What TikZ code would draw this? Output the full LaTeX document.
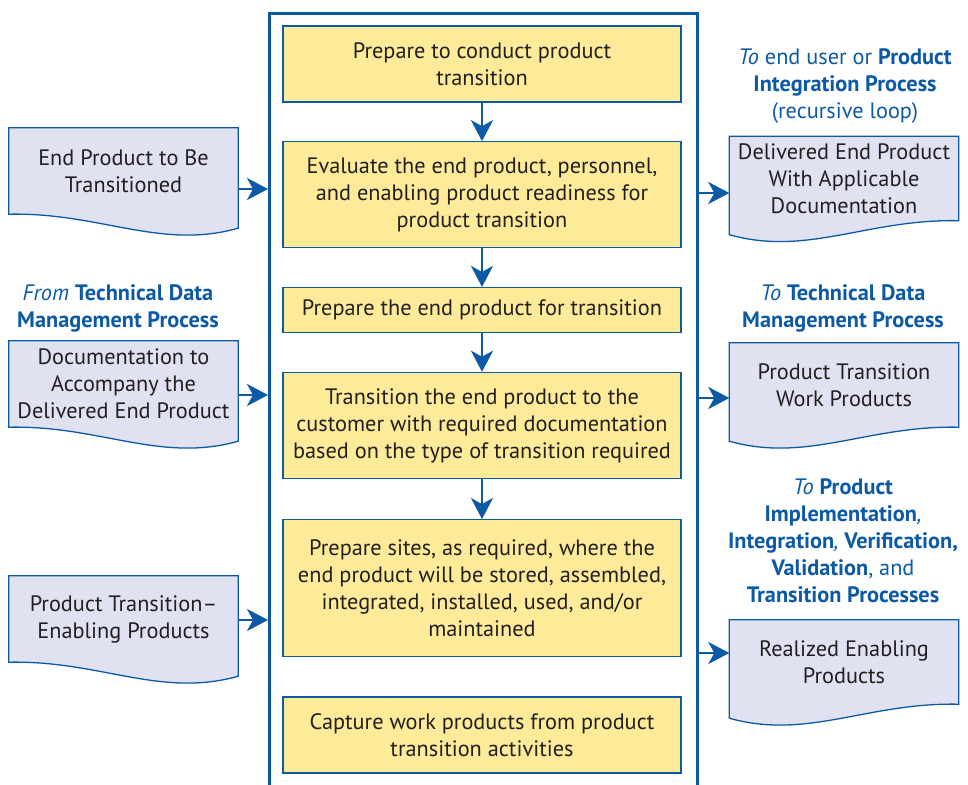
\documentclass[tikz,border=0pt]{standalone}
\usepackage{fontspec}
\setmainfont{PT Sans}
\usetikzlibrary{positioning,arrows.meta,calc,backgrounds}
\definecolor{nasablue}{RGB}{12,90,166}
\definecolor{stepyellow}{RGB}{254,235,153}
\definecolor{doclilac}{RGB}{224,226,242}
\definecolor{inktext}{RGB}{35,31,32}
\newcommand{\docleft}[1]{%
  \filldraw[docline] (#1.north west) -- (#1.north east) -- ($(#1.south east)+(0,14)$)
    .. controls ($(#1.south east)+(-78,36)$) and ($(#1.south west)+(91,-2)$) .. (#1.south west) -- cycle;}
\newcommand{\docright}[1]{%
  \filldraw[docline] (#1.north west) -- (#1.north east) -- (#1.south east)
    .. controls ($(#1.south east)+(-91,-2)$) and ($(#1.south west)+(78,36)$) .. ($(#1.south west)+(0,14)$) -- cycle;}

\begin{document}
\begin{tikzpicture}[x=1pt,y=-1pt,
    every node/.style={font=\fontsize{22.3}{27}\selectfont, text=inktext},
    stepbox/.style={draw=nasablue, line width=1.3pt, fill=stepyellow, minimum width=398pt, align=center, inner sep=0pt},
    docbox/.style={minimum width=229pt, minimum height=86pt, align=center, inner sep=0pt},
    docline/.style={draw=nasablue, line width=1.3pt, fill=doclilac},
    flow/.style={draw=nasablue, line width=2.6pt, -{Stealth[length=21pt,width=22pt,inset=6pt]}},
    frameline/.style={draw=nasablue, line width=2.6pt},
    head/.style={text=nasablue, align=center, inner sep=0pt}]
    \useasboundingbox (0,0) rectangle (968,784);
    \node[frameline, minimum width=428pt, minimum height=800pt, anchor=north west, inner sep=0pt] (stage) at (268,12) {};
    % steps inside the process
    \node[stepbox, minimum height=76pt] (prep) at (482,64) {Prepare to conduct product\\transition};
    \node[stepbox, minimum height=106pt, below=38.5pt of prep] (evaluate) {Evaluate the end product, personnel,\\and enabling product readiness for\\product transition};
    \node[stepbox, minimum height=45pt, below=38.5pt of evaluate] (prepEnd) {Prepare the end product for transition};
    \node[stepbox, minimum height=106pt, below=38.5pt of prepEnd] (transit) {Transition the end product to the\\customer with required documentation\\based on the type of transition required};
    \node[stepbox, minimum height=137pt, below=40pt of transit] (sites) {Prepare sites, as required, where the\\end product will be stored, assembled,\\integrated, installed, used, and/or\\maintained};
    \node[stepbox, minimum height=76pt, below=39pt of sites] (capture) {Capture work products from product\\transition activities};
    \draw[flow] (prep) -- (evaluate);
    \draw[flow] (evaluate) -- (prepEnd);
    \draw[flow] (prepEnd) -- (transit);
    \draw[flow] (transit) -- (sites);
    % inputs
    \node[docbox] (endProd) at (123.5,171) {End Product to Be\\Transitioned};
    \node[head] (fromTD) at (118,308) {\textit{From} \textbf{Technical Data}\\\textbf{Management Process}};
    \node[docbox] (docAcc) at (123.5,384) {Documentation to\\Accompany the\\Delivered End Product};
    \node[docbox] (enabling) at (123.5,619) {Product Transition–\\Enabling Products};
    % outputs
    \node[head] (toUser) at (845,86) {\textit{To} end user or \textbf{Product}\\\textbf{Integration Process}\\(recursive loop)};
    \node[docbox, minimum height=84pt] (delivered) at (844,178.5) {Delivered End Product\\With Applicable\\Documentation};
    \node[head] (toTD) at (843,308) {\textit{To} \textbf{Technical Data}\\\textbf{Management Process}};
    \node[docbox, minimum height=84pt] (workProd) at (844,385) {Product Transition\\Work Products};
    \node[head] (toProc) at (843,541) {\textit{To} \textbf{Product}\\\textbf{Implementation}\textit{,}\\\textbf{Integration}\textit{,} \textbf{Verification,}\\\textbf{Validation}, and\\\textbf{Transition Processes}};
    \node[docbox, minimum height=84pt] (realized) at (844,662) {Realized Enabling\\Products};
    \begin{scope}[on background layer]
        \docleft{endProd}
        \docleft{docAcc}
        \docleft{enabling}
        \docright{delivered}
        \docright{workProd}
        \docright{realized}
    \end{scope}
    \coordinate (inA) at (268,189);
    \coordinate (inB) at (268,395);
    \coordinate (inC) at (268,620);
    \coordinate (outA) at (696,193);
    \coordinate (outB) at (696,398);
    \coordinate (outC) at (696,653);
    \draw[flow] (endProd.east |- inA) -- (inA);
    \draw[flow] (docAcc.east |- inB) -- (inB);
    \draw[flow] (enabling.east |- inC) -- (inC);
    \draw[flow] (outA) -- (outA -| delivered.west);
    \draw[flow] (outB) -- (outB -| workProd.west);
    \draw[flow] (outC) -- (outC -| realized.west);
\end{tikzpicture}
\end{document}
